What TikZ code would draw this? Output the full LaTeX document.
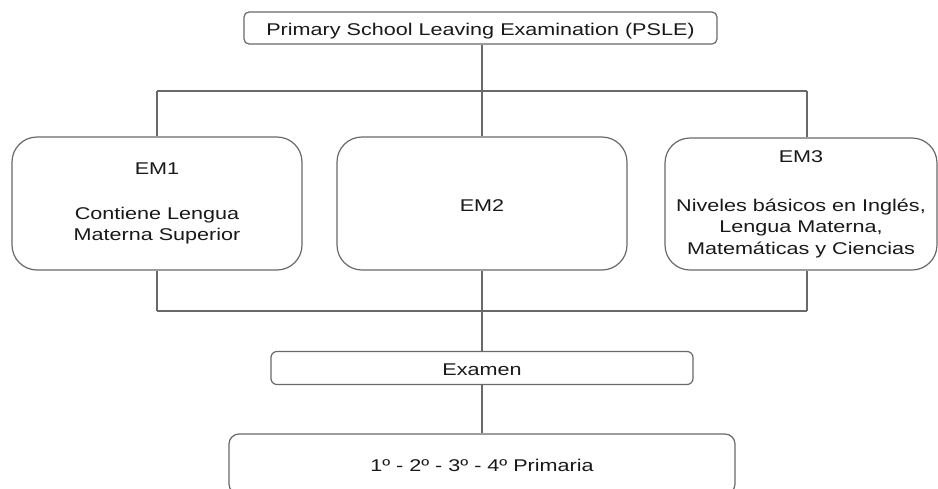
\documentclass[tikz,border=0pt]{standalone}
\usepackage{fontspec}
\setmainfont{Liberation Sans}[FakeStretch=1.27]
\definecolor{ln}{RGB}{105,105,105}
\definecolor{tx}{RGB}{25,25,25}
\tikzset{
  lnk/.style={draw=ln, line width=1.2pt},
  boxbase/.style={draw=ln, line width=1.2pt, fill=white, rectangle, text=tx,
    font=\fontsize{17}{21.5}\selectfont, align=center, inner sep=0pt},
  onebox/.style={boxbase, text height=15pt, text depth=0pt},
  bigbox/.style={boxbase, rounded corners=25pt},
}
\begin{document}
\begin{tikzpicture}[x=1pt,y=-1pt]
\clip (0,0) rectangle (938,488);
\fill[white] (0,0) rectangle (938,488);

% nodes
\node[onebox, rounded corners=5pt, minimum width=473pt, minimum height=32pt] (psle) at (480.5,28) {Primary School Leaving Examination (PSLE)};
\node[bigbox, minimum width=290pt, minimum height=133pt] (em1) at (157,203.5) {EM1\\[23.5pt]Contiene Lengua\\Materna Superior};
\node[bigbox, onebox, minimum width=290pt, minimum height=133pt] (em2) at (482,203.5) {EM2};
\node[bigbox, minimum width=272pt, minimum height=132pt] (em3) at (801,204) {EM3\\[27.5pt]Niveles básicos en Inglés,\\Lengua Materna,\\Matemáticas y Ciencias};
\node[onebox, rounded corners=6pt, minimum width=422pt, minimum height=33pt] (exa) at (482,368) {Examen};
\node[onebox, rounded corners=10pt, minimum width=506pt, minimum height=60pt] (pri) at (482,464) {1º - 2º - 3º - 4º Primaria};

% junction coordinates
\coordinate (jt) at (482,91);
\coordinate (jl) at (157,91);
\coordinate (jr) at (807,91);
\coordinate (bt) at (482,311);
\coordinate (bl) at (157,311);
\coordinate (br) at (807,311);

% connectors
\draw[lnk] (psle.south -| jt) -- (jt);
\draw[lnk] (jl) -- (jr);
\draw[lnk] (jl) -- (jl |- em1.north);
\draw[lnk] (jt) -- (jt |- em2.north);
\draw[lnk] (jr) -- (jr |- em3.north);
\draw[lnk] (bl |- em1.south) -- (bl);
\draw[lnk] (bt |- em2.south) -- (bt);
\draw[lnk] (br |- em3.south) -- (br);
\draw[lnk] (bl) -- (br);
\draw[lnk] (bt) -- (bt |- exa.north);
\draw[lnk] (exa.south) -- (pri.north);
\end{tikzpicture}
\end{document}
